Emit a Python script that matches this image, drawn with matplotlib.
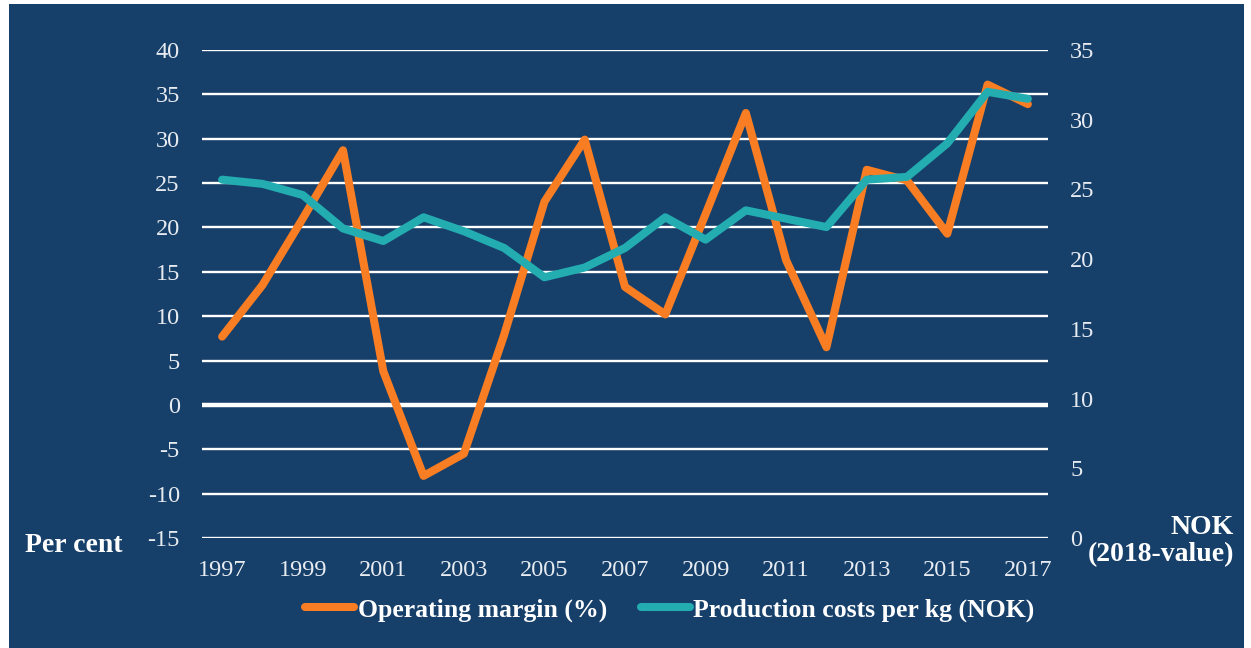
import numpy as np
import matplotlib
matplotlib.use("Agg")
import matplotlib.pyplot as plt
from matplotlib.patches import Rectangle
from matplotlib.lines import Line2D

years = np.arange(1997, 2018)
margin = [7.7, 13.5, 21.0, 28.7, 3.8, -8.0, -5.5, 7.9, 22.9, 29.9, 13.3, 10.2,
          21.5, 32.9, 16.3, 6.5, 26.5, 25.3, 19.3, 36.1, 33.9]
costs = [25.7, 25.4, 24.6, 22.2, 21.3, 23.0, 22.0, 20.8, 18.7, 19.4, 20.8, 23.0,
         21.4, 23.5, 22.9, 22.3, 25.7, 25.9, 28.3, 32.0, 31.5]
xticks = np.arange(1997, 2018, 2)
left_ticks = np.arange(-15, 41, 5)
right_ticks = np.arange(0, 36, 5)

bg = "#163f6a"
orange = "#f97d22"
teal = "#23adb1"
txt = "#e8ecf1"
W, H = 1251, 648

plt.rcParams['font.family'] = ['Liberation Serif', 'DejaVu Serif']
plt.rcParams['axes.unicode_minus'] = False

fig = plt.figure(figsize=(W / 100, H / 100), dpi=100)
fig.patch.set_facecolor("white")
fig.patches.append(Rectangle((9 / W, 0), (1244 - 9) / W, (H - 4) / H,
                             transform=fig.transFigure, facecolor=bg,
                             edgecolor="none", zorder=-10))

ax = fig.add_axes([202 / W, (H - 538) / H, (1048 - 202) / W, (538 - 50) / H])
ax.set_facecolor("none")
ax.set_xlim(1996.5, 2017.5)
ax.set_ylim(-15, 40)
ax.set_yticks(left_ticks)
ax.set_xticks(xticks)
for v in left_ticks:
    ax.axhline(v, color="white", lw=3.2 if v == 0 else 1.7, zorder=1)
for s in ax.spines.values():
    s.set_visible(False)
ax.tick_params(axis="y", length=0, pad=16, labelsize=17.5, labelcolor=txt)
ax.tick_params(axis="x", length=0, pad=16, labelsize=17.5, labelcolor=txt)
ax.plot(years, margin, color=orange, lw=5.8, solid_joinstyle="round",
        solid_capstyle="round", zorder=3)

ax2 = ax.twinx()
ax2.set_ylim(0, 35)
ax2.set_yticks(right_ticks)
for s in ax2.spines.values():
    s.set_visible(False)
ax2.tick_params(axis="y", length=0, pad=16, labelsize=17.5, labelcolor=txt)
ax2.plot(years, costs, color=teal, lw=5.8, solid_joinstyle="round",
         solid_capstyle="round", zorder=4)

fig.text(25 / W, 1 - 545 / H, "Per cent", color="white", fontsize=20,
         fontweight="bold", ha="left", va="center")
fig.text(1234 / W, 1 - 541 / H, "NOK\n(2018-value)", color="white", fontsize=20,
         fontweight="bold", ha="right", va="center", multialignment="right",
         linespacing=1.15)

handles = [Line2D([], [], color=orange, lw=5.8, solid_capstyle="round"),
           Line2D([], [], color=teal, lw=5.8, solid_capstyle="round")]
leg = fig.legend(handles, ["Operating margin (%)", "Production costs per kg (NOK)"],
                 loc="center", bbox_to_anchor=(670 / W, 1 - 610 / H), ncol=2,
                 frameon=False, handlelength=1.9, handletextpad=0.15,
                 columnspacing=1.3, prop={"size": 18.5, "weight": "bold"})
for t in leg.get_texts():
    t.set_color("white")

fig.savefig("out.png", dpi=100, facecolor=fig.get_facecolor())
